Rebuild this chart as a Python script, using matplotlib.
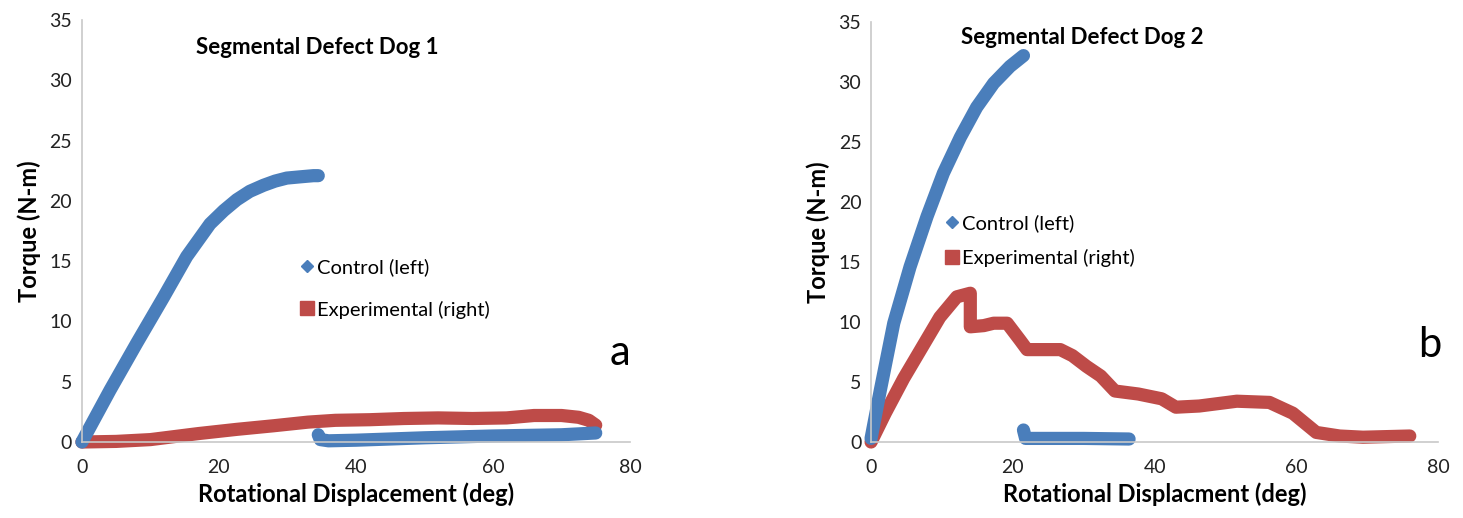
import numpy as np
import matplotlib.pyplot as plt
from matplotlib.lines import Line2D

# Dog 1 - control (left), breaks at failure then continues near zero
dog1_ctrl_x = [0, 4.1, 8.0, 11.9, 15.3, 18.7, 20.7, 22.6, 24.5, 26.5, 28.2, 29.9, 31.8, 33.8, 34.5, np.nan,
               34.5, 34.8, 36, 40, 50, 60, 70, 75]
dog1_ctrl_y = [0, 4.3, 8.2, 12.0, 15.4, 18.1, 19.2, 20.1, 20.8, 21.3, 21.65, 21.9, 22.0, 22.1, 22.1, np.nan,
               0.6, 0.2, 0.1, 0.15, 0.35, 0.5, 0.6, 0.75]
# Dog 1 - experimental (right)
dog1_exp_x = [0, 5, 10, 12.8, 17, 22.6, 28, 33, 37, 42, 47, 52, 57, 62, 66, 70, 72.5, 74, 75]
dog1_exp_y = [0, 0.05, 0.2, 0.4, 0.7, 1.05, 1.35, 1.65, 1.8, 1.85, 1.95, 2.0, 1.95, 2.0, 2.2, 2.2, 2.05, 1.8, 1.4]

# Dog 2 - control (left)
dog2_ctrl_x = [0, 1.3, 3.2, 5.5, 7.9, 10.2, 12.6, 14.9, 17.3, 19.6, 21.5, np.nan,
               21.5, 21.8, 25, 30, 36.4]
dog2_ctrl_y = [0.3, 4.3, 9.9, 14.6, 18.8, 22.4, 25.4, 27.9, 29.9, 31.3, 32.2, np.nan,
               1.0, 0.3, 0.3, 0.3, 0.25]
# Dog 2 - experimental (right)
dog2_exp_x = [0, 2.0, 4.6, 6.4, 9.7, 12.1, 14.0, 14.0, 15.9, 17.3, 19.2, 21.0, 22.0, 26.7, 28.4, 30.4, 32.4,
              34.4, 37.7, 41, 43, 46.3, 51.6, 56.2, 59.5, 62.8, 66.1, 69.4, 76]
dog2_exp_y = [0, 2.4, 5.3, 7.1, 10.4, 12.1, 12.4, 9.6, 9.7, 9.9, 9.9, 8.5, 7.7, 7.7, 7.2, 6.3, 5.5,
              4.25, 4.0, 3.6, 2.9, 3.0, 3.4, 3.3, 2.4, 0.8, 0.5, 0.4, 0.5]

BLUE = "#4a7ebb"
RED = "#be4b48"

plt.rcParams['font.family'] = ['Lato', 'DejaVu Sans']

fig = plt.figure(figsize=(14.63, 5.18), dpi=100)
ax1 = fig.add_axes([0.056, 0.1467, 0.3746, 0.8143])
ax2 = fig.add_axes([0.5954, 0.1467, 0.3876, 0.8108])


def style_axis(ax, xlabel, title, title_xy, letter, letter_xy, legend_xy, spacing):
    ax.set_xlim(0, 80)
    ax.set_ylim(0, 35)
    ax.set_xticks([0, 20, 40, 60, 80])
    ax.set_yticks(range(0, 36, 5))
    ax.tick_params(axis="y", length=0, labelsize=14, colors="#222222", pad=7)
    ax.tick_params(axis="x", length=0, labelsize=14, colors="#222222", pad=12)
    for side in ["top", "right"]:
        ax.spines[side].set_visible(False)
    for side in ["left", "bottom"]:
        ax.spines[side].set_color("#c8c8c8")
        ax.spines[side].set_linewidth(1.2)
    ax.set_xlabel(xlabel, fontsize=17, fontweight="bold", labelpad=5)
    ax.set_ylabel("Torque (N-m)", fontsize=17, fontweight="bold", labelpad=6)
    ax.text(*title_xy, title, transform=ax.transAxes, fontsize=16, fontweight="bold", ha="center", va="center")
    ax.text(*letter_xy, letter, transform=ax.transAxes, fontsize=30, ha="center", va="center")
    handles = [
        Line2D([], [], color=BLUE, marker="D", markersize=6.5, linestyle="none"),
        Line2D([], [], color=RED, marker="s", markersize=10, linestyle="none"),
    ]
    ax.legend(handles, ["Control (left)", "Experimental (right)"], loc="center left",
              bbox_to_anchor=legend_xy, frameon=False, fontsize=14.5, handletextpad=0.0,
              labelspacing=spacing, handlelength=1.0, borderpad=0, borderaxespad=0)


line_kw = dict(linewidth=9.5, solid_capstyle="round", solid_joinstyle="round", clip_on=False)

ax1.plot(dog1_exp_x, dog1_exp_y, color=RED, **line_kw)
ax1.plot(dog1_ctrl_x, dog1_ctrl_y, color=BLUE, **line_kw)
style_axis(ax1, "Rotational Displacement (deg)", "Segmental Defect Dog 1", (0.429, 0.936),
           "a", (0.982, 0.21), (0.393, 0.364), 1.2)

ax2.plot(dog2_exp_x, dog2_exp_y, color=RED, **line_kw)
ax2.plot(dog2_ctrl_x, dog2_ctrl_y, color=BLUE, **line_kw)
style_axis(ax2, "Rotational Displacment (deg)", "Segmental Defect Dog 2", (0.372, 0.964),
           "b", (0.986, 0.23), (0.125, 0.479), 0.85)

fig.savefig("out.png", dpi=100)
